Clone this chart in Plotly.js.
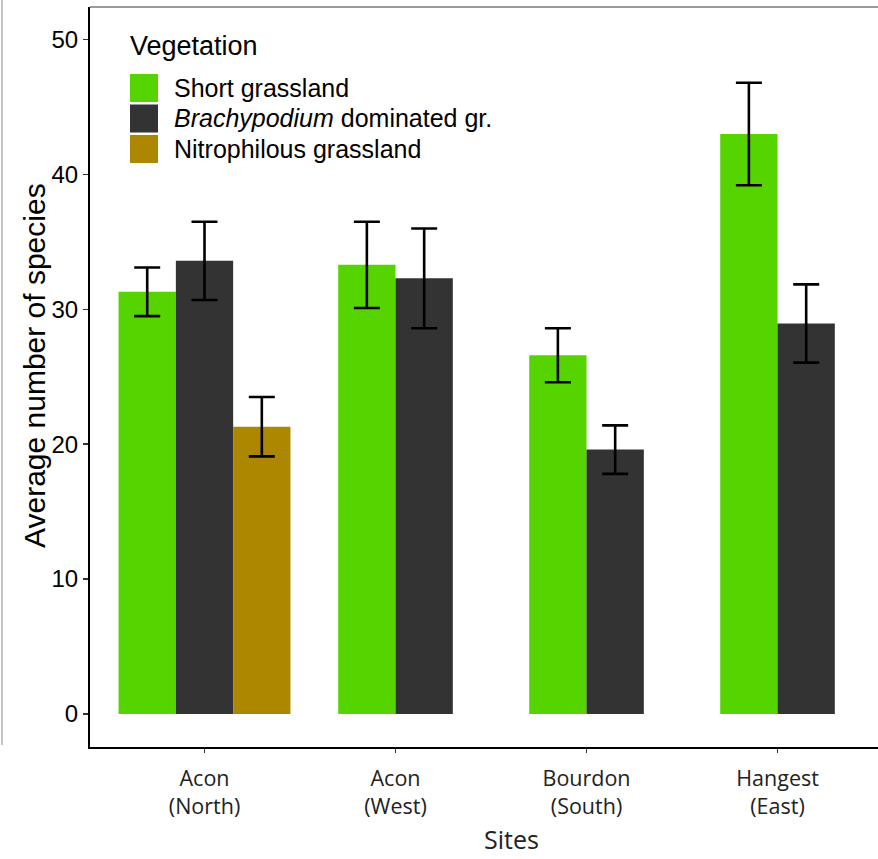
<!DOCTYPE html>
<html>
<head>
<meta charset="utf-8">
<script src="https://cdn.plot.ly/plotly-3.0.1.min.js"></script>
<style>
  html, body { margin: 0; padding: 0; background: #ffffff; }
  #chart { width: 878px; height: 859px; }
</style>
</head>
<body>
<div id="chart"></div>
<script>
// Sites (x categories)
const sites = ['Acon<br>(North)', 'Acon<br>(West)', 'Bourdon<br>(South)', 'Hangest<br>(East)'];

// Short grassland
const shortSites = ['Acon<br>(North)', 'Acon<br>(West)', 'Bourdon<br>(South)', 'Hangest<br>(East)'];
const shortMean  = [31.3, 33.3, 26.6, 43.0];
const shortErr   = [1.8, 3.2, 2.0, 3.8];

// Brachypodium dominated grassland
const brachySites = ['Acon<br>(North)', 'Acon<br>(West)', 'Bourdon<br>(South)', 'Hangest<br>(East)'];
const brachyMean  = [33.6, 32.3, 19.6, 28.95];
const brachyErr   = [2.9, 3.7, 1.8, 2.9];

// Nitrophilous grassland
const nitroSites = ['Acon<br>(North)'];
const nitroMean  = [21.3];
const nitroErr   = [2.2];

// Legend labels and axis titles
const seriesNames = ['Short grassland', '<i>Brachypodium</i> dominated gr.', 'Nitrophilous grassland'];
const legendTitle = 'Vegetation';
const xTitle = 'Sites';
const yTitle = 'Average number of species';

const colors = ['#55d400', '#333333', '#ad8700'];

const series = [
  { sites: shortSites,  mean: shortMean,  err: shortErr  },
  { sites: brachySites, mean: brachyMean, err: brachyErr },
  { sites: nitroSites,  mean: nitroMean,  err: nitroErr  }
];

// Bars of one site are packed side by side and centred on the category
const barWidth = 0.3;
function offsetsFor(sIdx) {
  return series[sIdx].sites.map(site => {
    const present = series.map((s, i) => s.sites.includes(site) ? i : -1).filter(i => i >= 0);
    const n = present.length;
    const k = present.indexOf(sIdx);
    return -n * barWidth / 2 + k * barWidth;
  });
}

const traces = series.map((s, i) => ({
  type: 'bar',
  name: seriesNames[i],
  x: s.sites,
  y: s.mean,
  width: barWidth,
  offset: offsetsFor(i),
  marker: { color: colors[i], line: { width: 0 } },
  error_y: { type: 'data', array: s.err, visible: true, color: '#000000', thickness: 2.6, width: 13 },
  showlegend: false,
  hoverinfo: 'x+y'
}));

// Plot area in pixels, used to place the legend block and titles
const W = 878, H = 859;
const M = { l: 90, r: 0, t: 7, b: 112 };
const px = x => (x - M.l) / (W - M.l - M.r);
const py = y => (H - M.b - y) / (H - M.t - M.b);

const sansFont = 'Liberation Sans, Arial, sans-serif';
const siteFont = 'Open Sans, sans-serif';

const shapes = [];
const annotations = [];

annotations.push({
  xref: 'paper', yref: 'paper', x: px(128), y: py(46),
  xanchor: 'left', yanchor: 'middle', showarrow: false,
  text: legendTitle, font: { family: sansFont, size: 27, color: '#000' }
});
const rowCenters = [88, 118.5, 149];
seriesNames.forEach((name, i) => {
  const cy = rowCenters[i];
  shapes.push({
    type: 'rect', xref: 'paper', yref: 'paper',
    x0: px(130), x1: px(158), y0: py(cy - 14), y1: py(cy + 14),
    fillcolor: colors[i], line: { width: 0 }
  });
  annotations.push({
    xref: 'paper', yref: 'paper', x: px(172), y: py(cy),
    xanchor: 'left', yanchor: 'middle', showarrow: false,
    text: name, font: { family: sansFont, size: 25, color: '#000' }
  });
});

// Axis titles
annotations.push({
  xref: 'paper', yref: 'paper', x: px(511), y: py(839),
  xanchor: 'center', yanchor: 'middle', showarrow: false, borderpad: 0,
  text: xTitle, font: { family: siteFont, size: 25, color: '#222' }
});
annotations.push({
  xref: 'paper', yref: 'paper', x: px(34), y: py(366),
  xanchor: 'center', yanchor: 'middle', showarrow: false, textangle: -90,
  text: yTitle, font: { family: sansFont, size: 30, color: '#000' }
});

// Thin grey frame lines at the top and far left of the figure
shapes.push({ type: 'line', xref: 'paper', yref: 'paper', x0: px(90), x1: px(878), y0: py(7), y1: py(7),
  line: { color: '#9a9a9a', width: 2 } });
shapes.push({ type: 'line', xref: 'paper', yref: 'paper', x0: px(2), x1: px(2), y0: py(0), y1: py(745),
  line: { color: '#c4c4c4', width: 2 } });

const layout = {
  width: W, height: H,
  margin: M,
  paper_bgcolor: '#ffffff',
  plot_bgcolor: '#ffffff',
  barmode: 'overlay',
  font: { family: sansFont, color: '#000' },
  showlegend: false,
  xaxis: {
    type: 'category',
    categoryorder: 'array',
    categoryarray: sites,
    range: [-0.5995, 3.526],
    showgrid: false, zeroline: false,
    showline: true, linecolor: '#000', linewidth: 2,
    ticks: 'outside', ticklen: 4, tickwidth: 1, tickcolor: '#333',
    ticklabelstandoff: 7,
    tickfont: { family: siteFont, size: 21.5, color: '#222' }
  },
  yaxis: {
    range: [-2.45, 52.42],
    tickvals: [0, 10, 20, 30, 40, 50],
    showgrid: false, zeroline: false,
    showline: true, linecolor: '#000', linewidth: 2,
    ticks: 'outside', ticklen: 5, tickwidth: 1.5, tickcolor: '#333',
    tickfont: { family: sansFont, size: 24, color: '#000' }
  },
  shapes: shapes,
  annotations: annotations
};

Plotly.newPlot('chart', traces, layout, { displayModeBar: false, staticPlot: true });
</script>
</body>
</html>
